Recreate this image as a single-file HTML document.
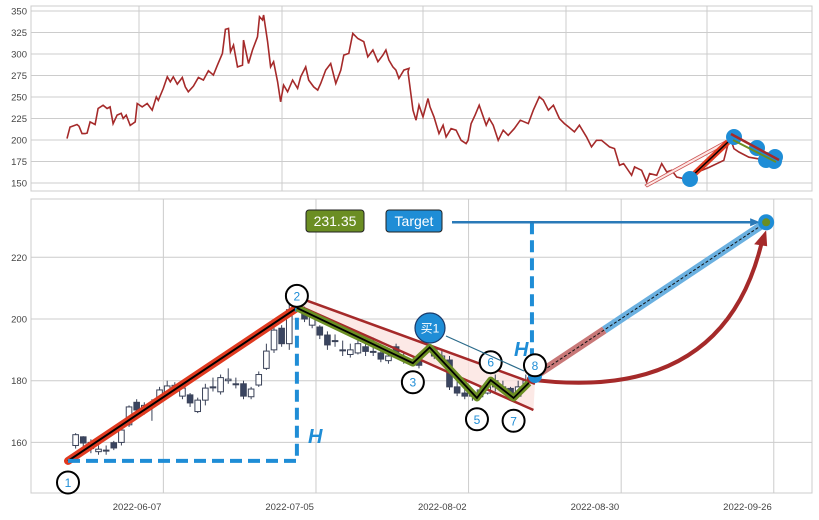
<!DOCTYPE html>
<html><head><meta charset="utf-8">
<style>
html,body{margin:0;padding:0;background:#fff;}
svg{display:block;font-family:"Liberation Sans","Noto Sans CJK SC",sans-serif;}
</style></head>
<body>
<svg id="chart" width="819" height="520" viewBox="0 0 819 520">
<g id="topPanel"></g>
<g id="botPanel"></g>
</svg>
<script>
// ---------- data ----------
const topDay=[0,3,10,12,15,18,20,23,28,31,36,40,43,46,50,54,56,59,63,68,70,75,80,85,89,91,96,100,103,106,110,115,118,121,126,131,136,141,146,150,155,158,161,163,166,170,175,176,181,185,190,192,195,196,200,203,206,210,213,216,220,225,230,233,238,241,246,250,253,258,263,268,273,276,281,285,290,296,300,305,310,315,318,321,325,328,331,336,341,340,345,348,351,355,360,362,366,371,375,378,383,388,393,398,400,403,407,411,418,421,425,430,435,440,446,452,460,465,471,475,480,485,491,496,500,506,511,518,523,528,533,541,546,551,555,563,566,573,578,581,588,593,598,603,608,615,623,640,655,661,665,670,680,690,700,711];
const topVal=[201.6,215,218,216,207.5,207.5,208,221,218,236.6,240.5,236.6,238.5,219,229,231,225,229,217,221,242.5,238.5,242.5,234.7,250,246,260,273.5,267.7,273.5,265,272.7,261.8,256,262.6,272.7,269.6,280.5,275.5,287,300.7,328.6,329.8,302.6,310.4,285,287,316.2,289,304.6,320,343.4,339.5,345.3,314.3,285,291,267.7,244.4,263.8,256,269.6,260,273.5,285,269.6,261.8,258,265.7,281.3,289,265.7,281.3,298.7,300.7,324,318,314.3,296.8,304.6,291,298.7,304.6,292.9,285,281.3,271.6,281.3,283.2,279.3,234.7,223,240.5,226.9,248.3,238.5,226.9,207.5,217.2,203.6,213.3,211.4,199.7,195.8,199.7,219.1,228.9,240.5,217.2,225,217.2,199.7,211.4,205.5,213.3,223,219.1,234.7,250.2,246.4,234.7,240.5,225,219.1,215.3,209.4,217.2,203.6,192,199.7,199.7,192,190,170.6,172.6,158.9,168.7,164.8,151.2,160.9,159,172.6,162.9,164.8,157,155.1,160,168,176.4,203.6,190,186,180,178];
const topTicks=[150,175,200,225,250,275,300,325,350];

const cIdx=[1,2,3,4,5,6,7,8,9,10,11,12,13,14,15,16,17,18,19,20,21,22,23,24,25,26,27,28,29,31,32,33,34,35,36,37,38,39,40,41,42,43,44,46,48,49,50,51,52,53,54,55,56,57,58,59,60,61];
const cOpen =[159,161.8,160,157,157.5,159.9,160,165.7,173,171,172,174,176,177,175,175.4,170,173.7,178,176.4,180,179,179,174.8,178.6,184,190,197,192,203,198,197.4,194.8,193,190,188.5,189,191,189.5,189,186.5,191,187,187,190,187,186.7,178,176,175,174.8,176,180,178,177.5,175,178,180];
const cClose=[162.5,159.8,158,157.8,157.5,158.2,164,171.5,170.5,172,172.5,177,178.3,178.5,177.6,172.8,173.7,177.6,178,181,180.5,179,175,177.3,182,189.6,196.4,192,203,200,201,194.8,191.6,193,190,190,192,189.5,189.5,187,188,189,187,185,188,188,178,176,175,176,177,178,178,177,175,178,180,182];
const cHigh =[163,162,161,159,159,160.5,166,172,174,173,174,178,180,179.5,179,176,174.5,179,181,182,184,181,180,178,183,192,199,198,207,204,202,198,196,195,193,192,194,192,194,190,189,192,189,189,191,190,188,180,178,177,178,180,182,180,178,180,182,184];
const cLow  =[158,158,156.5,156,156,157.5,159,165,169.5,169,167,173,175,176,174,171.5,169.5,172,176.5,175.5,179,177.5,174,174,178,183.5,189,191,190,199,197,193.5,190,191,188,187.5,188.5,188,188,186,185.5,188,185.5,184,187,186,177,175,174,173.5,174,175.5,176.5,176,174,174.5,177.5,179.5];

const botTicks=[160,180,200,220];
const dateTickIdx=[12.5,32.5,52.5,72.5,92.5];
const dateTickLbl=["2022-06-07","2022-07-05","2022-08-02","2022-08-30","2022-09-26"];

const waveIdx=[0,30,45.2,47.4,53.6,55.4,58.4,60.4];
const wavePx =[154,203.6,185.7,190.8,174.4,180.2,174.4,179.3];
const labelIdx=[0,30,45.2,53.6,55.4,58.4,61.2];
const labelPx=[147,207.5,179.5,167.5,186,167,185];
const labelTxt=["1","2","3","5","6","7","8"];
const targetIdx=91.5, targetPx=231.35, breakIdx=61.2, breakPx=181.5;
const chanUpper=[[28.5,208.5],[61.2,179]];
const chanLower=[[30.5,204],[61,170.5]];

// ---------- scales ----------
const NS="http://www.w3.org/2000/svg";
function mk(p,tag,attrs){const e=document.createElementNS(NS,tag);for(const k in attrs)e.setAttribute(k,attrs[k]);p.appendChild(e);return e;}
const TL=31,TR=812,TT=6,TB=191;
const tx=d=>67+d*(713/711);
const ty=v=>183-(v-150)*0.86;
const BL=31,BR=812,BT=199,BB=493;
const bx=i=>68+i*7.63;
const by=v=>319-(v-200)*3.085;

const topG=document.getElementById('topPanel');
const botG=document.getElementById('botPanel');

let r=mk(topG,'rect',{x:TL,y:TT,width:TR-TL,height:TB-TT,fill:'#fff',stroke:'#ccc'});


topTicks.forEach(t=>{
 const l=mk(topG,'line',{x1:TL,x2:TR,y1:ty(t),y2:ty(t),stroke:'#ccc','stroke-width':1});
 
 
 const tt=mk(topG,'text',{x:TL-4,y:ty(t)+3.5,'text-anchor':'end','font-size':9.5,fill:'#444'});
 tt.textContent=t;
 
 
});
[139,282,423,566,707].forEach(x=>{
 const l=mk(topG,'line',{x1:x,x2:x,y1:TT,y2:TB,stroke:'#ccc'});
 
 
});
let pts=topDay.map((d,i)=>tx(d).toFixed(1)+','+ty(topVal[i]).toFixed(1)).join(' ');
let pl=mk(topG,'polyline',{points:pts,fill:'none',stroke:'#a52a2a','stroke-width':1.6});


let a=mk(topG,'polygon',{points:'645,185 727,140 729,134 738,136 730,142 647,187',fill:'#fde8e6',stroke:'#c55','stroke-width':0.8});


a=mk(topG,'line',{x1:690,y1:178,x2:728,y2:142,stroke:'#e03a20','stroke-width':6});


a=mk(topG,'line',{x1:690,y1:178,x2:728,y2:142,stroke:'#000','stroke-width':1.5});


[[690,179],[734,137],[757,148],[766,160],[774,161],[775,157]].forEach(p=>{
 const c=mk(topG,'circle',{cx:p[0],cy:p[1],r:8,fill:'#1f8dd6'});
 
 
});
a=mk(topG,'line',{x1:731,y1:134,x2:779,y2:160,stroke:'#a52a2a','stroke-width':2.5});


a=mk(topG,'line',{x1:733,y1:140,x2:776,y2:162,stroke:'#6b8e23','stroke-width':2});



r=mk(botG,'rect',{x:BL,y:BT,width:BR-BL,height:BB-BT,fill:'#fff',stroke:'#ccc'});


botTicks.forEach(t=>{
 const l=mk(botG,'line',{x1:BL,x2:BR,y1:by(t),y2:by(t),stroke:'#ccc'});
 
 
 const tt=mk(botG,'text',{x:BL-4,y:by(t)+3.5,'text-anchor':'end','font-size':9.5,fill:'#444'});
 tt.textContent=t;
 
 
});
dateTickIdx.forEach((d,i)=>{
 const x=bx(d);
 const l=mk(botG,'line',{x1:x,x2:x,y1:BT,y2:BB,stroke:'#ccc'});
 
 
 const tt=mk(botG,'text',{x:x-2,y:510,'text-anchor':'end','font-size':9.5,fill:'#444'});
 tt.textContent=dateTickLbl[i];
 
 
});
let poly=mk(botG,'polygon',{points:[chanUpper[0],chanUpper[1],chanLower[1],chanLower[0]].map(p=>bx(p[0])+','+by(p[1])).join(' '),fill:'#fbe3e0',opacity:0.8});


cIdx.forEach((ix,k)=>{
 const x=bx(ix),o=cOpen[k],c=cClose[k];
 const up=c>=o;
 const w=mk(botG,'line',{x1:x,x2:x,y1:by(cHigh[k]),y2:by(cLow[k]),stroke:'#3a4258','stroke-width':1});
 
 
 const t=by(Math.max(o,c)),h=Math.max(1,Math.abs(by(o)-by(c)));
 const b=mk(botG,'rect',{x:x-2.8,y:t,width:5.6,height:h,fill:up?'#fff':'#3a4560',stroke:'#3a4258','stroke-width':1});
 
 
});
[chanUpper,chanLower].forEach(cl=>{
 const l=mk(botG,'line',{x1:bx(cl[0][0]),y1:by(cl[0][1]),x2:bx(cl[1][0]),y2:by(cl[1][1]),stroke:'#a52a2a','stroke-width':2.5});
 
 
});
let x1=bx(waveIdx[0]),y1=by(wavePx[0]),x2=bx(waveIdx[1]),y2=by(wavePx[1]);
a=mk(botG,'line',{x1:x1,y1:y1,x2:x2,y2:y2,stroke:'#e03a20','stroke-width':8,'stroke-linecap':'round'});


a=mk(botG,'line',{x1:x1,y1:y1,x2:x2,y2:y2,stroke:'#000','stroke-width':2});


a=mk(botG,'polyline',{points:`${x1},${y1} ${x2},${y1} ${x2},${y2}`,fill:'none',stroke:'#1f8dd6','stroke-width':4,'stroke-dasharray':'12,6'});


pts=waveIdx.slice(1).map((d,i)=>bx(d)+','+by(wavePx[i+1])).join(' ');
a=mk(botG,'polyline',{points:pts,fill:'none',stroke:'#6b8e23','stroke-width':7,'stroke-linejoin':'round'});


a=mk(botG,'polyline',{points:pts,fill:'none',stroke:'#000','stroke-width':1.8});


const bX=bx(breakIdx),bY=by(breakPx),tX=bx(targetIdx),tY=by(targetPx);
const mX=bX+(tX-bX)*0.3,mY=bY+(tY-bY)*0.3;
a=mk(botG,'line',{x1:bX,y1:bY,x2:mX,y2:mY,stroke:'#c87878','stroke-width':8});


a=mk(botG,'line',{x1:mX,y1:mY,x2:tX,y2:tY,stroke:'#6ab0e0','stroke-width':8});


a=mk(botG,'line',{x1:bX,y1:bY,x2:tX,y2:tY,stroke:'#111','stroke-width':1,'stroke-dasharray':'3,2'});


a=mk(botG,'line',{x1:bX-3,y1:tY,x2:bX-3,y2:bY-5,stroke:'#1f8dd6','stroke-width':4,'stroke-dasharray':'12,6'});


a=mk(botG,'line',{x1:452,y1:tY,x2:tX-12,y2:tY,stroke:'#2a7ab8','stroke-width':2.5});


a=mk(botG,'polygon',{points:`${tX-6},${tY} ${tX-16},${tY-4} ${tX-16},${tY+4}`,fill:'#2a7ab8'});


a=mk(botG,'path',{d:`M${bX-8},${bY+3} Q${tX-40},${bY+30} ${tX-3},${tY+14}`,fill:'none',stroke:'#a52a2a','stroke-width':4});


a=mk(botG,'polygon',{points:`${tX},${tY+8} ${tX-12},${tY+22} ${tX+1},${tY+24}`,fill:'#a52a2a'});


a=mk(botG,'circle',{cx:bX,cy:bY,r:7,fill:'#1f8dd6'});


a=mk(botG,'circle',{cx:tX,cy:tY,r:8,fill:'#1f8dd6'});


a=mk(botG,'circle',{cx:tX,cy:tY,r:4,fill:'#6b8e23'});


[[308,443],[514,356]].forEach(p=>{
 const t=mk(botG,'text',{x:p[0],y:p[1],'font-size':20,'font-weight':'bold','font-style':'italic',fill:'#1f8dd6'});
 t.textContent='H';
 
 
});
labelIdx.forEach((d,i)=>{
 const cx=bx(d),cy=by(labelPx[i]);
 const c=mk(botG,'circle',{cx:cx,cy:cy,r:11,fill:'#fff',stroke:'#000','stroke-width':2});
 
 
 const t=mk(botG,'text',{x:cx,y:cy+4.5,'text-anchor':'middle','font-size':12,fill:'#1f8dd6'});
 t.textContent=labelTxt[i];
 
 
});
a=mk(botG,'line',{x1:446,y1:336,x2:524,y2:371,stroke:'#2a6a8a','stroke-width':1.2});


a=mk(botG,'circle',{cx:430,cy:328,r:15,fill:'#1f8dd6',stroke:'#1a3a6a','stroke-width':1.2});


a=mk(botG,'text',{x:430,y:332.5,'text-anchor':'middle','font-size':12,fill:'#fff'});
a.textContent='买1';


a=mk(botG,'rect',{x:306,y:210,width:58,height:22,rx:3,fill:'#6b8e23',stroke:'#222','stroke-width':1});


a=mk(botG,'text',{x:335,y:226,'text-anchor':'middle','font-size':14,fill:'#fff'});
a.textContent=targetPx.toFixed(2);


a=mk(botG,'rect',{x:386,y:210,width:56,height:22,rx:3,fill:'#1f8dd6',stroke:'#222','stroke-width':1});


a=mk(botG,'text',{x:414,y:226,'text-anchor':'middle','font-size':14,fill:'#fff'});
a.textContent='Target';


</script>
</body></html>
